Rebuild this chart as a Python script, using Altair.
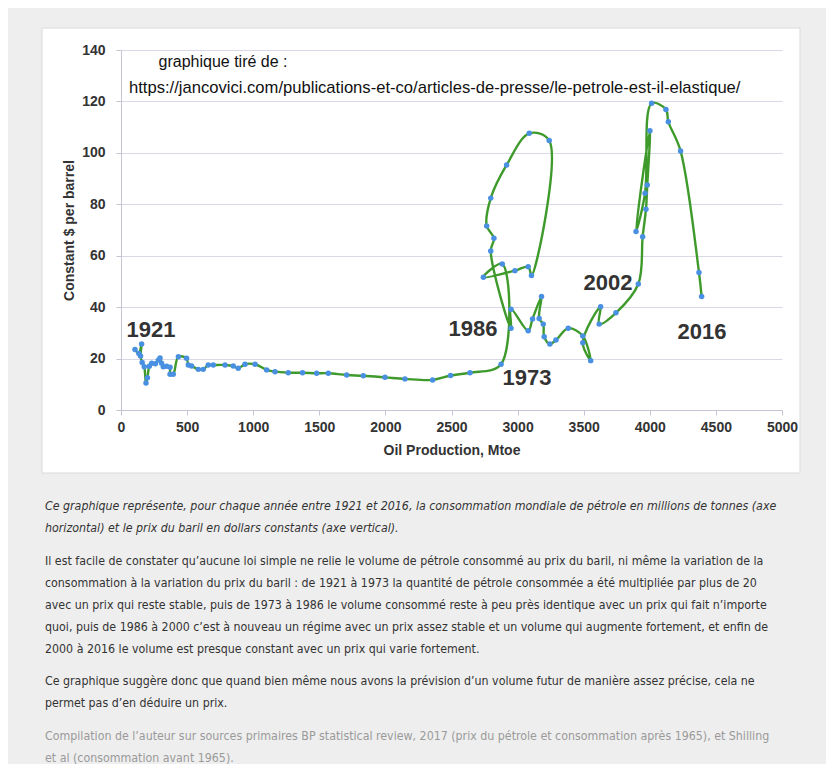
import altair as alt
import pandas as pd

# ---- data (order = chronological path) ----
production = [106, 135, 156, 148, 160, 176, 189, 200, 214, 232, 260, 282, 295, 307, 320, 345,
              371, 371, 395, 434, 496, 509, 534, 585, 622, 660, 698, 787, 849, 887, 938, 1014,
              1102, 1165, 1265, 1373, 1480, 1568, 1707, 1833, 1997, 2148, 2357, 2493, 2640,
              2875, 2884, 2741, 2980, 3080, 3105, 3239, 3088, 2917, 2797, 2766, 2821, 2797,
              2950, 2950, 3080, 3113, 3181, 3163, 3194, 3201, 3244, 3290, 3383, 3493, 3553,
              3493, 3628, 3617, 3744, 3913, 3946, 3971, 3981, 4001, 3896, 3964, 4014, 4122,
              4140, 4233, 4372, 4392]
price = [23.5, 22.0, 25.7, 21.0, 18.5, 16.8, 10.5, 12.5, 17.0, 18.2, 18.0, 19.4, 20.2, 18.2,
         16.8, 17.0, 16.6, 13.9, 13.9, 20.7, 20.1, 17.5, 17.1, 15.8, 15.8, 17.5, 17.5, 17.5,
         17.1, 16.2, 17.8, 17.8, 15.6, 14.9, 14.5, 14.5, 14.3, 14.3, 13.6, 13.3, 12.7, 12.1,
         11.7, 13.4, 14.5, 17.8, 56.8, 51.6, 54.2, 55.7, 52.3, 104.8, 107.6, 95.3, 82.4, 71.6,
         66.8, 61.8, 31.8, 39.2, 30.8, 35.4, 44.1, 35.6, 33.4, 28.5, 25.7, 27.2, 31.8, 28.8,
         19.2, 26.2, 40.2, 33.4, 37.8, 49.0, 67.4, 78.1, 87.5, 108.6, 69.4, 84.3, 119.3, 116.9,
         112.1, 100.7, 53.5, 44.1]

label_text = ["1921", "1986", "1973", "2002", "2016"]
label_x = [227, 2663, 3071, 3684, 4395]
label_y = [31.1, 31.5, 12.4, 49.4, 30.3]

x_ticks = [0, 500, 1000, 1500, 2000, 2500, 3000, 3500, 4000, 4500, 5000]
y_ticks = [0, 20, 40, 60, 80, 100, 120, 140]

header_1 = "graphique tiré de :"
header_2 = "https://jancovici.com/publications-et-co/articles-de-presse/le-petrole-est-il-elastique/"

para_1 = ["Ce graphique représente, pour chaque année entre 1921 et 2016, la consommation mondiale de pétrole en millions de tonnes (axe",
          "horizontal) et le prix du baril en dollars constants (axe vertical)."]
para_2 = ["Il est facile de constater qu’aucune loi simple ne relie le volume de pétrole consommé au prix du baril, ni même la variation de la",
          "consommation à la variation du prix du baril : de 1921 à 1973 la quantité de pétrole consommée a été multipliée par plus de 20",
          "avec un prix qui reste stable, puis de 1973 à 1986 le volume consommé reste à peu près identique avec un prix qui fait n’importe",
          "quoi, puis de 1986 à 2000 c’est à nouveau un régime avec un prix assez stable et un volume qui augmente fortement, et enfin de",
          "2000 à 2016 le volume est presque constant avec un prix qui varie fortement."]
para_3 = ["Ce graphique suggère donc que quand bien même nous avons la prévision d’un volume futur de manière assez précise, cela ne",
          "permet pas d’en déduire un prix."]
para_4 = ["Compilation de l’auteur sur sources primaires BP statistical review, 2017 (prix du pétrole et consommation après 1965), et Shilling",
          "et al (consommation avant 1965)."]

df = pd.DataFrame({"i": list(range(len(production))), "prod": production, "price": price})
lab = pd.DataFrame({"t": label_text, "x": label_x, "y": label_y})
one = pd.DataFrame({"k": [0]})

CHART_FONT = "Liberation Sans"
TEXT_FONT = "DejaVu Sans Condensed, Liberation Sans Narrow, Open Sans"
GRAY = "#eeeeee"

xs = alt.Scale(domain=[0, 5000], nice=False)
ys = alt.Scale(domain=[0, 140], nice=False)

x_axis = alt.Axis(values=x_ticks, format="d", grid=False, tickSize=5, tickColor="#c4c4d2",
                  domainColor="#c4c4d2", labelFont=CHART_FONT, labelFontWeight="bold",
                  labelFontSize=14, labelColor="#333333", labelPadding=5, labelFlush=False,
                  title="Oil Production, Mtoe", titleFont=CHART_FONT, titleFontSize=14,
                  titleFontWeight="bold", titleColor="#333333", titlePadding=9)
y_axis = alt.Axis(values=y_ticks, format="d", grid=True, gridColor="#d8d8e6", gridWidth=1.2,
                  tickSize=5, tickColor="#c4c4d2", domainColor="#c4c4d2",
                  labelFont=CHART_FONT, labelFontWeight="bold", labelFontSize=14,
                  labelColor="#333333", labelPadding=11, labelFlush=False,
                  title="Constant $ per barrel", titleFont=CHART_FONT, titleFontSize=14,
                  titleFontWeight="bold", titleColor="#333333", titlePadding=5)


def rect(x1, x2, y1, y2, **kw):
    return alt.Chart(one).mark_rect(**kw).encode(
        x=alt.value(x1), x2=alt.value(x2), y=alt.value(y1), y2=alt.value(y2))


# gray page areas around the white figure box
gray_top = rect(-113, 705, -42, -22, color=GRAY)
gray_left = rect(-113, -79, -22, 423, color=GRAY)
gray_right = rect(679, 705, -22, 423, color=GRAY)
gray_bottom = rect(-113, 705, 423, 714, color=GRAY)
box = rect(-79, 679, -22, 423, fillOpacity=0, stroke="#dadada", strokeWidth=1)

base = alt.Chart(df)
line = base.mark_line(interpolate="catmull-rom", color="#3f9a2c", strokeWidth=2.4).encode(
    x=alt.X("prod:Q", scale=xs, axis=x_axis),
    y=alt.Y("price:Q", scale=ys, axis=y_axis),
    order="i:Q")
pts = base.mark_circle(size=30, color="#4a90e2", opacity=1).encode(
    x=alt.X("prod:Q", scale=xs), y=alt.Y("price:Q", scale=ys))

labels = alt.Chart(lab).mark_text(font=CHART_FONT, fontSize=22, fontWeight="bold",
                                  color="#333333", baseline="middle", align="center").encode(
    x=alt.X("x:Q", scale=xs), y=alt.Y("y:Q", scale=ys), text="t:N")

h1 = alt.Chart(one).mark_text(font=CHART_FONT, fontSize=16, color="#111111",
                              align="center", baseline="middle").encode(
    x=alt.value(102), y=alt.value(12), text=alt.value(header_1))
h2 = alt.Chart(one).mark_text(font=CHART_FONT, fontSize=16.6, color="#111111",
                              align="left", baseline="middle").encode(
    x=alt.value(8), y=alt.value(38), text=alt.value(header_2))


def para(lines, ybase, color="#333333", style="normal"):
    return alt.Chart(one).mark_text(font=TEXT_FONT, fontSize=12.3, color=color, fontStyle=style,
                                    align="left", baseline="alphabetic", lineHeight=22).encode(
        x=alt.value(-76), y=alt.value(ybase), text=alt.value(lines))


p1 = para(para_1, 460, style="italic")
p2 = para(para_2, 514.5)
p3 = para(para_3, 635)
p4 = para(para_4, 689.5, color="#9a9a9a")

chart = alt.layer(gray_top, gray_left, gray_right, gray_bottom, box, line, pts, labels,
                  h1, h2, p1, p2, p3, p4).properties(
    width=661, height=360,
    autosize=alt.AutoSizeParams(type="none"),
    padding={"left": 113, "top": 42, "right": 44, "bottom": 354},
    background="white",
).configure_view(strokeWidth=0)

chart.save("out.html", embed_options={"renderer": "svg", "actions": False})
